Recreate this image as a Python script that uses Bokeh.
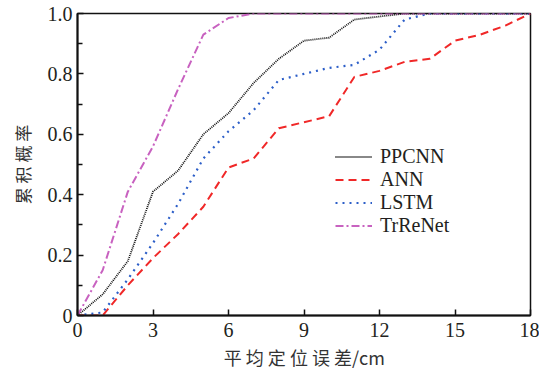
from bokeh.plotting import figure
from bokeh.models import FixedTicker, Legend, LegendItem
from bokeh.embed import file_html
from bokeh.resources import INLINE

# ---- data ----
err_cm = list(range(0, 19))
ppcnn = [0.0, 0.07, 0.18, 0.41, 0.48, 0.60, 0.67, 0.77, 0.85, 0.91, 0.92, 0.98, 0.99, 1.0, 1.0, 1.0, 1.0, 1.0, 1.0]
ann = [0.0, 0.0, 0.10, 0.19, 0.27, 0.36, 0.49, 0.52, 0.62, 0.64, 0.66, 0.79, 0.81, 0.84, 0.85, 0.91, 0.93, 0.96, 1.0]
lstm = [0.0, 0.01, 0.12, 0.24, 0.37, 0.52, 0.61, 0.68, 0.78, 0.80, 0.82, 0.83, 0.88, 0.98, 1.0, 1.0, 1.0, 1.0, 1.0]
trrenet = [0.0, 0.15, 0.41, 0.56, 0.75, 0.93, 0.985, 1.0, 1.0, 1.0, 1.0, 1.0, 1.0, 1.0, 1.0, 1.0, 1.0, 1.0, 1.0]

series_names = ["PPCNN", "ANN", "LSTM", "TrReNet"]
x_ticks = [0, 3, 6, 9, 12, 15, 18]
y_ticks = [0.0, 0.2, 0.4, 0.6, 0.8, 1.0]
y_tick_labels = ["0", "0.2", "0.4", "0.6", "0.8", "1.0"]
x_title = "平 均 定 位 误 差/cm"
y_title = "累 积 概 率"

TEXT = "#231f20"
SERIF = "Liberation Serif"
CJK = "Noto Sans CJK SC"

p = figure(width=539, height=373, x_range=(0, 18), y_range=(0, 1.0),
           output_backend="svg", toolbar_location=None,
           min_border_left=77, min_border_right=9, min_border_top=13, min_border_bottom=58)

p.xgrid.visible = False
p.ygrid.visible = False
p.outline_line_color = "#111111"
p.outline_line_width = 1.5
p.background_fill_color = "white"
p.border_fill_color = "white"

styles = [
    dict(color="#111111", line_dash="1 1", line_width=1.8),
    dict(color="#f02828", line_dash="8 5", line_width=2.0),
    dict(color="#2c5ec8", line_dash="2 5", line_width=2.2),
    dict(color="#c862c0", line_dash="8 3 2 3", line_width=2.0),
]
data = [ppcnn, ann, lstm, trrenet]
items = []
for name, ys, st in zip(series_names, data, styles):
    r = p.line(err_cm, ys, line_color=st["color"], line_dash=st["line_dash"],
               line_width=st["line_width"])
    items.append(LegendItem(label=name, renderers=[r]))

p.axis.axis_line_color = "#111111"
p.axis.axis_line_width = 2
p.axis.major_tick_in = 6
p.axis.major_tick_out = 0
p.axis.minor_tick_out = 0
p.axis.major_tick_line_color = "#111111"
p.axis.major_tick_line_width = 1.5
p.axis.major_label_text_font = SERIF
p.axis.major_label_text_font_size = "20px"
p.axis.major_label_text_color = TEXT
p.axis.axis_label_text_font = CJK
p.axis.axis_label_text_font_size = "17px"
p.axis.axis_label_text_font_style = "normal"
p.axis.axis_label_text_color = "#333333"

p.xaxis.ticker = FixedTicker(ticks=x_ticks)
p.xaxis.minor_tick_line_color = None
p.xaxis.major_label_standoff = 7
p.xaxis.axis_label = x_title
p.xaxis.axis_label_standoff = 4
p.xaxis.axis_label_text_font_size = "18px"

p.yaxis.ticker = FixedTicker(ticks=y_ticks, minor_ticks=[0.1, 0.3, 0.5, 0.7, 0.9])
p.yaxis.minor_tick_in = 5
p.yaxis.minor_tick_line_color = "#111111"
p.yaxis.minor_tick_line_width = 1.5
p.yaxis.major_label_overrides = {t: s for t, s in zip(y_ticks, y_tick_labels)}
p.yaxis.major_label_standoff = 5
p.yaxis.axis_label = y_title
p.yaxis.axis_label_standoff = 10

legend = Legend(items=items, location=(258, 78), border_line_color=None,
                background_fill_alpha=0, padding=0, margin=0, spacing=0,
                glyph_width=37, glyph_height=23, label_height=23,
                label_standoff=8, label_text_font=SERIF,
                label_text_font_size="20px", label_text_color=TEXT)
p.add_layout(legend)

open("out.html", "w").write(file_html(p, INLINE))
